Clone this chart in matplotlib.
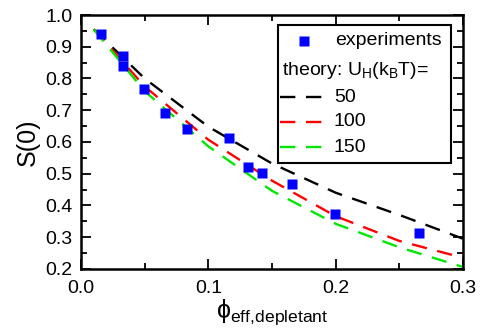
import matplotlib
matplotlib.use("Agg")
import matplotlib.pyplot as plt
from matplotlib.patches import Rectangle
from matplotlib.ticker import MultipleLocator

plt.rcParams["font.family"] = ["Liberation Sans", "DejaVu Sans"]
plt.rcParams["mathtext.fontset"] = "custom"
plt.rcParams["mathtext.rm"] = "Liberation Sans"
plt.rcParams["mathtext.it"] = "Liberation Sans:italic"

# experiments
phi_exp = [0.0157, 0.033, 0.033, 0.0495, 0.066, 0.083, 0.116, 0.131, 0.142, 0.166, 0.1995, 0.2655]
s0_exp = [0.940, 0.871, 0.839, 0.767, 0.691, 0.641, 0.613, 0.521, 0.502, 0.468, 0.373, 0.313]

# theory curves, U_H in kBT
phi_th = [0.01, 0.05, 0.10, 0.15, 0.20, 0.25, 0.30]
s0_50 = [0.955, 0.800, 0.648, 0.532, 0.440, 0.370, 0.295]
s0_100 = [0.955, 0.775, 0.607, 0.478, 0.366, 0.288, 0.235]
s0_150 = [0.955, 0.760, 0.586, 0.446, 0.342, 0.268, 0.206]

th_labels = ["50", "100", "150"]
th_colors = ["black", "#ff0000", "#00e600"]
dash = (0, (6.5, 4.5))

fig = plt.figure(figsize=(5, 3.34), dpi=100)
ax = fig.add_axes([0.162, 0.195, 0.764, 0.76])

for ys, c in zip([s0_50, s0_100, s0_150], th_colors):
    ax.plot(phi_th, ys, color=c, lw=1.7, linestyle=dash)
ax.plot(phi_exp, s0_exp, "s", color="#0000ff", ms=7, mec="none", zorder=5)

ax.set_xlim(0, 0.3)
ax.set_ylim(0.2, 1.0)
ax.xaxis.set_minor_locator(MultipleLocator(0.05))
ax.yaxis.set_major_locator(MultipleLocator(0.1))
ax.yaxis.set_minor_locator(MultipleLocator(0.05))
ax.set_xticks([0, 0.1, 0.2, 0.3])
ax.set_xticklabels(["0.0", "0.1", "0.2", "0.3"])
ax.tick_params(which="both", direction="in", top=True, right=True, width=1.3, labelsize=14)
ax.tick_params(which="major", length=7)
ax.tick_params(which="minor", length=4)
ax.tick_params(axis="x", pad=8)
ax.tick_params(axis="y", pad=6)
for sp in ax.spines.values():
    sp.set_linewidth(1.8)

ax.set_ylabel("S(0)", fontsize=18, labelpad=4)
ax.set_xlabel("$\\mathrm{\u03d5}_{\\mathrm{eff{,}depletant}}$", fontsize=18, labelpad=0)

# legend drawn by hand
tr = ax.transAxes
ax.add_patch(Rectangle((0.516, 0.417), 0.453, 0.544, transform=tr, fill=False,
                       lw=1.5, ec="black", zorder=6))
ax.plot([0.584], [0.898], "s", color="#0000ff", ms=7, mec="none", transform=tr, zorder=7)
ax.text(0.665, 0.898, "experiments", transform=tr, fontsize=14, va="center", zorder=7)
ax.text(0.526, 0.783, "theory: U$_\\mathrm{H}$(k$_\\mathrm{B}$T)=", transform=tr,
        fontsize=14, va="center", zorder=7)
for yy, lab, c in zip([0.677, 0.579, 0.480], th_labels, th_colors):
    ax.plot([0.521, 0.647], [yy, yy], color=c, lw=1.7, linestyle=dash, transform=tr, zorder=7)
    ax.text(0.662, yy, lab, transform=tr, fontsize=14, va="center", zorder=7)

fig.savefig("out.png", dpi=100)
